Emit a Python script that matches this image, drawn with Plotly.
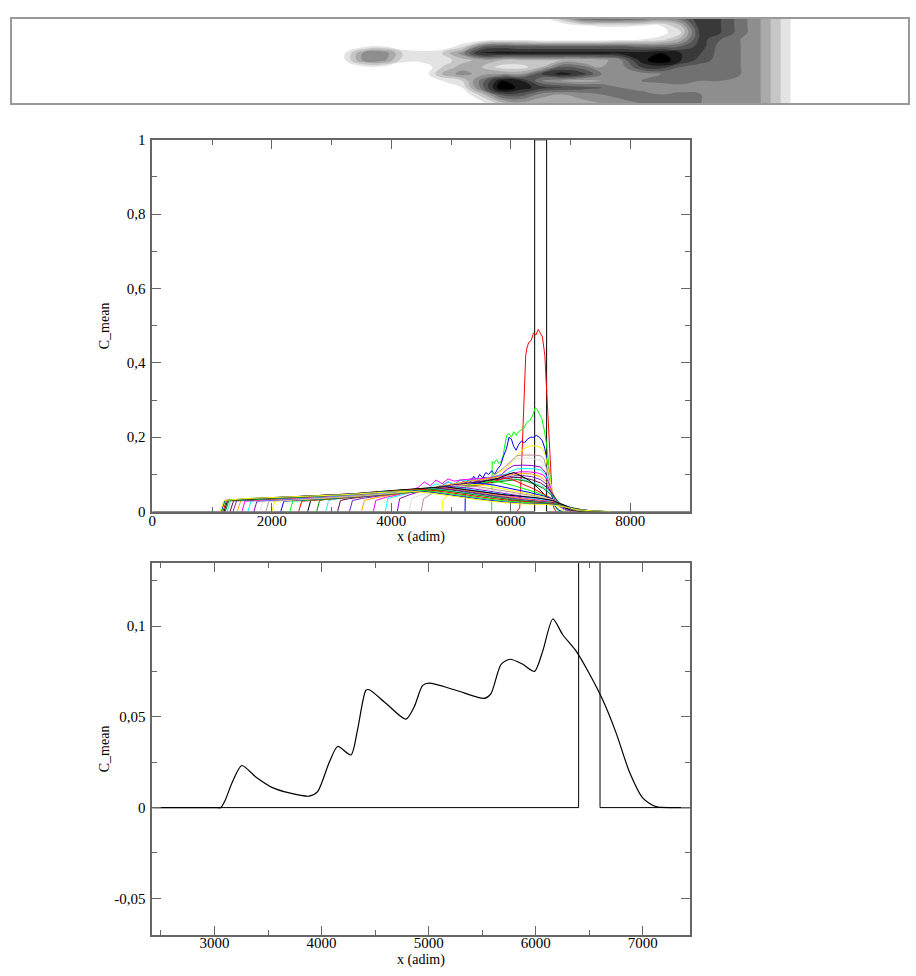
import plotly.graph_objects as go

# ---------------- colours (xmgrace default palette) ----------------
RED = "#ff0000"; GREEN = "#00ff00"; BLUE = "#0000ff"; YELLOW = "#ffff00"
BROWN = "#bc8f8f"; GREY = "#dcdcdc"; VIOLET = "#9400d3"; CYAN = "#00ffff"
MAGENTA = "#ff00ff"; ORANGE = "#ffa500"; INDIGO = "#7221bc"; MAROON = "#670748"
TURQUOISE = "#40e0d0"; GREEN4 = "#008b00"; BLACK = "#000000"

# ---------------- top panel: concentration field ----------------
field_x = [340, 360, 380, 400, 420, 440, 460, 480, 500, 520, 540, 560, 580,
           600, 620, 640, 660, 680, 700, 720, 740, 760, 780, 800, 820]
field_y = [11, 18, 25, 32, 39, 46, 53, 60, 67, 74, 81, 88, 97]
field_z = [
    [0,0,0,0,0,0,0,0,0,0,0,0.25,0.55,0.6,0.6,0.55,0.45,0.55,0.8,0.7,0.55,0.4,0.2,0,0],
    [0,0,0,0,0,0,0,0,0,0,0,0,0.08,0.12,0.12,0.1,0.1,0.3,0.8,0.7,0.55,0.4,0.2,0,0],
    [0,0,0,0,0,0,0,0,0,0,0,0,0,0,0,0,0.05,0.2,0.75,0.7,0.55,0.4,0.2,0,0],
    [0,0,0,0,0,0,0,0,0.05,0.05,0,0,0,0,0.05,0.1,0.15,0.35,0.75,0.6,0.5,0.4,0.2,0,0],
    [0,0.05,0.1,0,0,0,0.15,0.55,0.65,0.6,0.6,0.6,0.6,0.6,0.6,0.55,0.55,0.6,0.75,0.55,0.5,0.4,0.2,0,0],
    [0.05,0.4,0.5,0.2,0.15,0.2,0.45,0.85,0.85,0.85,0.85,0.85,0.85,0.85,0.85,0.85,0.9,0.8,0.7,0.55,0.5,0.4,0.2,0,0],
    [0.05,0.4,0.45,0.15,0.15,0.15,0.25,0.35,0.3,0.3,0.3,0.3,0.3,0.35,0.5,0.85,1.0,0.8,0.65,0.55,0.5,0.4,0.2,0,0],
    [0,0.05,0.05,0,0,0.2,0.35,0.3,0.15,0.15,0.3,0.6,0.55,0.4,0.45,0.7,0.75,0.6,0.55,0.55,0.5,0.4,0.2,0,0],
    [0,0,0,0,0,0.3,0.45,0.35,0.4,0.4,0.7,0.85,0.75,0.5,0.4,0.45,0.5,0.55,0.6,0.55,0.5,0.4,0.2,0,0],
    [0,0,0,0,0,0.1,0.2,0.55,0.9,0.8,0.5,0.4,0.35,0.4,0.45,0.5,0.55,0.6,0.5,0.5,0.5,0.4,0.2,0,0],
    [0,0,0,0,0,0,0.1,0.55,1.0,0.85,0.75,0.7,0.65,0.6,0.5,0.45,0.4,0.4,0.45,0.5,0.5,0.4,0.2,0,0],
    [0,0,0,0,0,0,0,0.25,0.65,0.65,0.45,0.4,0.45,0.5,0.55,0.55,0.5,0.55,0.5,0.5,0.5,0.4,0.2,0,0],
    [0,0,0,0,0,0,0,0.05,0.25,0.35,0.3,0.3,0.35,0.4,0.45,0.5,0.55,0.55,0.5,0.5,0.5,0.4,0.2,0,0],
]

# ---------------- injection window (boxcar) ----------------
window_x = [0, 6400, 6400, 6600, 6600, 9000]
window_y = [0, 0, 1, 1, 0, 0]

# ---------------- middle panel: C_mean profiles at successive times ----------------
s01_x = [6100,6150,6180,6210,6250,6270,6300,6340,6380,6420,6460,6500,6530,6570,6600,6630,6660,6690,6720,6760]
s01_y = [0,0.01,0.12,0.24,0.42,0.44,0.455,0.46,0.48,0.475,0.49,0.478,0.47,0.42,0.33,0.24,0.12,0.05,0.01,0]
s02_x = [5680,5690,5720,5760,5800,5840,5870,5900,5930,5970,6010,6050,6090,6130,6170,6220,6270,6320,6370,6410,6440,6480,6520,6560,6600,6640,6680,6720,6780,6850]
s02_y = [0,0.135,0.13,0.14,0.13,0.135,0.15,0.18,0.205,0.21,0.2,0.215,0.205,0.215,0.22,0.225,0.24,0.245,0.26,0.28,0.275,0.26,0.25,0.22,0.18,0.12,0.06,0.02,0.005,0]
s03_x = [5235,5240,5280,5330,5380,5430,5480,5530,5580,5630,5680,5730,5780,5830,5880,5930,5970,6010,6050,6090,6130,6180,6230,6280,6330,6380,6430,6480,6530,6570,6610,6650,6690,6740,6800,6880]
s03_y = [0,0.075,0.085,0.08,0.095,0.085,0.1,0.09,0.105,0.1,0.11,0.1,0.115,0.125,0.15,0.17,0.2,0.195,0.175,0.165,0.18,0.19,0.185,0.195,0.2,0.2,0.205,0.2,0.19,0.17,0.13,0.08,0.04,0.015,0.004,0]
s04_x = [4850,4860,4950,5050,5150,5250,5350,5450,5550,5650,5750,5850,5950,6050,6150,6250,6350,6450,6530,6580,6620,6660,6700,6750,6820,6900]
s04_y = [0,0.03,0.045,0.055,0.065,0.07,0.075,0.08,0.085,0.09,0.1,0.11,0.12,0.14,0.16,0.172,0.177,0.176,0.17,0.15,0.12,0.085,0.05,0.022,0.006,0]
s05_x = [4500,4540,4700,4900,5100,5300,5500,5700,5900,6000,6100,6200,6300,6400,6500,6560,6620,6670,6720,6800,6900,7000]
s05_y = [0,0.035,0.05,0.06,0.068,0.075,0.085,0.095,0.12,0.135,0.15,0.152,0.153,0.152,0.15,0.14,0.1,0.06,0.035,0.015,0.004,0]
s06_x = [4300,4340,4500,4700,4900,5100,5300,5500,5700,5850,5950,6050,6200,6350,6500,6580,6640,6700,6760,6850,6950,7050]
s06_y = [0,0.035,0.045,0.052,0.06,0.068,0.075,0.082,0.09,0.1,0.125,0.14,0.145,0.143,0.138,0.12,0.085,0.05,0.03,0.012,0.003,0]
s07_x = [4100,4140,4300,4500,4700,4850,4950,5050,5150,5250,5350,5450,5550,5650,5750,5850,5950,6050,6200,6350,6500,6580,6640,6700,6770,6860,6960,7080]
s07_y = [0,0.035,0.045,0.055,0.062,0.07,0.08,0.072,0.085,0.078,0.09,0.082,0.092,0.088,0.095,0.1,0.115,0.124,0.125,0.124,0.12,0.105,0.075,0.045,0.025,0.01,0.003,0]
s08_x = [3900,3940,4100,4300,4500,4650,4750,4850,4950,5050,5150,5300,5450,5600,5750,5900,6000,6100,6250,6400,6500,6580,6640,6700,6780,6880,7000,7120]
s08_y = [0,0.035,0.042,0.05,0.058,0.066,0.075,0.068,0.08,0.074,0.085,0.082,0.088,0.09,0.095,0.1,0.108,0.115,0.116,0.115,0.112,0.1,0.075,0.048,0.026,0.011,0.003,0]
s09_x = [3700,3740,3900,4100,4300,4450,4550,4650,4750,4850,4950,5050,5200,5400,5600,5800,6000,6150,6300,6450,6550,6630,6700,6780,6880,7000,7150]
s09_y = [0,0.03,0.038,0.045,0.055,0.065,0.08,0.07,0.085,0.075,0.088,0.082,0.086,0.088,0.09,0.095,0.102,0.107,0.107,0.104,0.098,0.08,0.05,0.028,0.012,0.003,0]
s10_x = [3500,3550,3700,3900,4100,4300,4500,4700,4900,5100,5300,5500,5700,5900,6050,6200,6350,6500,6600,6680,6760,6860,6980,7150]
s10_y = [0,0.03,0.036,0.042,0.048,0.054,0.06,0.066,0.072,0.077,0.082,0.086,0.09,0.096,0.1,0.103,0.101,0.094,0.08,0.055,0.032,0.014,0.004,0]
s11_x = [3300,3350,3500,3700,3900,4100,4300,4500,4700,4900,5100,5300,5500,5700,5900,6050,6200,6350,6500,6600,6680,6760,6860,6980,7150]
s11_y = [0,0.03,0.035,0.04,0.045,0.05,0.055,0.06,0.064,0.069,0.073,0.078,0.082,0.087,0.092,0.096,0.097,0.094,0.086,0.073,0.052,0.031,0.014,0.004,0]
s12_x = [3100,3150,3300,3500,3700,3900,4100,4300,4500,4700,4900,5100,5300,5500,5700,5900,6050,6200,6350,6500,6620,6700,6780,6880,7000,7180]
s12_y = [0,0.03,0.035,0.039,0.043,0.047,0.051,0.055,0.059,0.063,0.067,0.071,0.075,0.079,0.084,0.089,0.092,0.091,0.086,0.077,0.063,0.046,0.028,0.013,0.004,0]
s13_x = [2900,2950,3100,3300,3500,3700,3900,4100,4300,4500,4700,4900,5100,5300,5500,5700,5900,6050,6200,6350,6500,6620,6700,6790,6900,7030,7200]
s13_y = [0,0.03,0.034,0.038,0.041,0.045,0.048,0.052,0.055,0.058,0.062,0.065,0.069,0.073,0.077,0.081,0.086,0.088,0.086,0.08,0.07,0.058,0.043,0.026,0.012,0.004,0]
s14_x = [2750,2800,2950,3150,3350,3550,3750,3950,4150,4350,4550,4750,4950,5150,5350,5550,5750,5950,6100,6250,6400,6550,6650,6730,6820,6930,7060,7250]
s14_y = [0,0.03,0.034,0.037,0.04,0.043,0.046,0.049,0.052,0.055,0.058,0.061,0.064,0.068,0.072,0.076,0.08,0.084,0.086,0.082,0.074,0.062,0.05,0.038,0.023,0.011,0.003,0]
s15_x = [2600,2650,2800,3000,3200,3400,3600,3800,4000,4200,4400,4600,4800,5000,5200,5400,5600,5800,5950,6050,6150,6300,6450,6600,6700,6780,6880,7000,7150,7350]
s15_y = [0,0.03,0.033,0.036,0.039,0.042,0.045,0.048,0.051,0.054,0.057,0.06,0.063,0.066,0.07,0.075,0.082,0.09,0.1,0.105,0.098,0.085,0.065,0.04,0.03,0.022,0.012,0.005,0.001,0]
s16_x = [2450,2500,3000,4000,5000,5500,5800,5900,6000,6200,6400,6600,6700,6800,6920,7050,7250]
s16_y = [0,0.028,0.034,0.046,0.062,0.072,0.085,0.09,0.088,0.075,0.06,0.043,0.034,0.024,0.012,0.004,0]
s17_x = [2300,2350,3000,4000,5000,5400,5650,5800,6000,6200,6400,6600,6700,6800,6920,7060,7300]
s17_y = [0,0.028,0.035,0.047,0.062,0.072,0.082,0.08,0.072,0.063,0.053,0.041,0.033,0.024,0.013,0.005,0]
s18_x = [2150,2200,2800,3600,4400,5000,5450,5700,6000,6300,6600,6720,6820,6950,7100,7350]
s18_y = [0,0.028,0.034,0.042,0.054,0.066,0.077,0.072,0.063,0.052,0.04,0.032,0.023,0.012,0.004,0]
s19_x = [2000,2050,2700,3500,4300,4900,5300,5600,5900,6200,6500,6720,6830,6960,7120,7400]
s19_y = [0,0.028,0.034,0.042,0.053,0.065,0.074,0.07,0.061,0.051,0.041,0.031,0.022,0.012,0.004,0]
s20_x = [1900,1950,2600,3400,4200,4800,5150,5500,5800,6100,6400,6720,6840,6970,7150,7420]
s20_y = [0,0.028,0.034,0.042,0.053,0.064,0.071,0.066,0.058,0.05,0.042,0.03,0.021,0.011,0.004,0]
s21_x = [1800,1850,2500,3300,4100,4700,5050,5400,5700,6000,6300,6600,6730,6850,6980,7160,7450]
s21_y = [0,0.028,0.034,0.042,0.052,0.063,0.069,0.064,0.057,0.05,0.043,0.035,0.029,0.02,0.011,0.004,0]
s22_x = [1700,1750,2400,3200,4000,4600,4950,5300,5600,5900,6200,6500,6740,6860,6990,7180,7470]
s22_y = [0,0.028,0.034,0.042,0.052,0.062,0.068,0.063,0.056,0.049,0.042,0.035,0.028,0.02,0.011,0.004,0]
s23_x = [1600,1650,2300,3100,3900,4500,4900,5200,5500,5800,6100,6400,6740,6870,7000,7200,7480]
s23_y = [0,0.028,0.034,0.042,0.051,0.061,0.067,0.062,0.055,0.048,0.041,0.034,0.027,0.019,0.011,0.004,0]
s24_x = [1500,1550,2200,3000,3800,4400,4850,5150,5450,5750,6050,6350,6750,6880,7010,7220,7500]
s24_y = [0,0.028,0.034,0.042,0.051,0.06,0.066,0.061,0.054,0.047,0.04,0.033,0.026,0.018,0.01,0.004,0]
s25_x = [1420,1480,2100,2900,3700,4300,4800,5100,5400,5700,6000,6300,6750,6880,7020,7230,7500]
s25_y = [0,0.029,0.034,0.042,0.05,0.059,0.065,0.06,0.053,0.046,0.039,0.032,0.025,0.018,0.01,0.004,0]
s26_x = [1350,1410,2000,2800,3600,4200,4750,5050,5350,5650,5950,6250,6600,6750,6890,7030,7250,7520]
s26_y = [0,0.029,0.034,0.041,0.049,0.058,0.064,0.059,0.052,0.045,0.038,0.031,0.026,0.023,0.017,0.01,0.003,0]
s27_x = [1300,1360,1900,2700,3500,4100,4700,5000,5300,5600,5900,6200,6600,6760,6900,7040,7260,7540]
s27_y = [0,0.029,0.034,0.041,0.048,0.057,0.063,0.058,0.051,0.044,0.037,0.03,0.025,0.022,0.016,0.009,0.003,0]
s28_x = [1250,1310,1850,2650,3450,4050,4650,4950,5250,5550,5850,6150,6600,6760,6900,7050,7280,7560]
s28_y = [0,0.029,0.034,0.041,0.048,0.056,0.062,0.057,0.05,0.043,0.036,0.03,0.024,0.021,0.015,0.009,0.003,0]
s29_x = [1220,1280,1800,2600,3400,4000,4600,4900,5200,5500,5800,6100,6600,6770,6910,7060,7300,7580]
s29_y = [0,0.029,0.034,0.04,0.047,0.055,0.061,0.056,0.049,0.042,0.036,0.03,0.023,0.02,0.014,0.008,0.003,0]
s30_x = [1200,1260,1750,2550,3350,3950,4600,4900,5200,5500,5800,6100,6450,6700,6850,7000,7200,7500]
s30_y = [0,0.03,0.035,0.041,0.048,0.056,0.064,0.067,0.06,0.053,0.047,0.042,0.037,0.03,0.02,0.01,0.003,0]
s31_x = [1180,1240,1700,2500,3300,3900,4500,4800,5100,5400,5700,6000,6300,6600,6780,6920,7080,7320,7600]
s31_y = [0,0.03,0.035,0.041,0.047,0.054,0.06,0.055,0.048,0.041,0.035,0.03,0.026,0.022,0.019,0.013,0.007,0.002,0]
s32_x = [1160,1220,1650,2450,3250,3850,4450,4750,5050,5350,5650,5950,6250,6600,6790,6930,7090,7340,7620]
s32_y = [0,0.03,0.035,0.04,0.046,0.053,0.058,0.053,0.046,0.039,0.033,0.028,0.024,0.021,0.018,0.012,0.006,0.002,0]
s33_x = [1150,1210,1600,2400,3200,3800,4400,4700,5000,5300,5600,5900,6200,6600,6800,6940,7100,7360,7640]
s33_y = [0,0.03,0.035,0.04,0.046,0.052,0.056,0.051,0.044,0.037,0.031,0.026,0.022,0.02,0.017,0.011,0.006,0.002,0]
s34_x = [1140,1200,1550,2350,3150,3750,4350,4650,4950,5250,5550,5850,6150,6600,6800,6950,7110,7380,7660]
s34_y = [0,0.03,0.035,0.04,0.045,0.051,0.055,0.05,0.043,0.036,0.03,0.025,0.021,0.019,0.016,0.011,0.005,0.002,0]

set_colors = [RED, GREEN, BLUE, YELLOW, BROWN, GREY, VIOLET, CYAN, MAGENTA, ORANGE,
              INDIGO, MAROON, TURQUOISE, GREEN4, BLACK,
              RED, GREEN, BLUE, YELLOW, BROWN, GREY, VIOLET, CYAN, MAGENTA, ORANGE,
              INDIGO, MAROON, TURQUOISE, GREEN4, BLACK, RED, GREEN, BLUE, YELLOW]
profiles = [(s01_x, s01_y), (s02_x, s02_y), (s03_x, s03_y), (s04_x, s04_y), (s05_x, s05_y),
            (s06_x, s06_y), (s07_x, s07_y), (s08_x, s08_y), (s09_x, s09_y), (s10_x, s10_y),
            (s11_x, s11_y), (s12_x, s12_y), (s13_x, s13_y), (s14_x, s14_y), (s15_x, s15_y),
            (s16_x, s16_y), (s17_x, s17_y), (s18_x, s18_y), (s19_x, s19_y), (s20_x, s20_y),
            (s21_x, s21_y), (s22_x, s22_y), (s23_x, s23_y), (s24_x, s24_y), (s25_x, s25_y),
            (s26_x, s26_y), (s27_x, s27_y), (s28_x, s28_y), (s29_x, s29_y), (s30_x, s30_y),
            (s31_x, s31_y), (s32_x, s32_y), (s33_x, s33_y), (s34_x, s34_y)]

# ---------------- bottom panel: single profile ----------------
prof_x = [0, 3000, 3059, 3100, 3168, 3255, 3386, 3542, 3698, 3885, 3963, 4072, 4150, 4274, 4336,
          4414, 4446, 4601, 4788, 4866, 4944, 5006, 5255, 5520, 5582, 5676, 5760, 5879, 5988,
          6065, 6159, 6252, 6377, 6502, 6626, 6750, 6875, 7000, 7124, 7311, 9000]
prof_y = [0, 0, 0, 0.004, 0.0142, 0.0232, 0.0169, 0.011, 0.0081, 0.0063, 0.0088, 0.025, 0.0337,
          0.029, 0.043, 0.0647, 0.065, 0.0575, 0.0488, 0.0557, 0.0674, 0.0686, 0.0647, 0.0602,
          0.0629, 0.079, 0.0818, 0.079, 0.0751, 0.0863, 0.104, 0.0953, 0.0863, 0.0737, 0.0593,
          0.0412, 0.0196, 0.0052, 0.0005, 0, 0]

mid_xticks = [0, 2000, 4000, 6000, 8000]
mid_xtext = ["0", "2000", "4000", "6000", "8000"]
mid_yticks = [0, 0.2, 0.4, 0.6, 0.8, 1]
mid_ytext = ["0", "0,2", "0,4", "0,6", "0,8", "1"]
bot_xticks = [3000, 4000, 5000, 6000, 7000]
bot_xtext = ["3000", "4000", "5000", "6000", "7000"]
bot_yticks = [-0.05, 0, 0.05, 0.1]
bot_ytext = ["-0,05", "0", "0,05", "0,1"]

# ---------------- figure ----------------
W, H = 916, 976
FONT = "Liberation Serif"
AX = "#666666"

fig = go.Figure()

fig.add_trace(go.Contour(
    x=field_x, y=field_y, z=field_z, xaxis="x3", yaxis="y3",
    zmin=0, zmax=1, colorscale=[[0, "#ffffff"], [1, "#000000"]],
    contours=dict(start=0.1, end=0.9, size=0.1, coloring="fill", showlines=False),
    line=dict(width=0, smoothing=1.3), showscale=False, hoverinfo="skip"))

fig.add_trace(go.Scatter(x=window_x, y=window_y, mode="lines", xaxis="x", yaxis="y",
                         line=dict(color=BLACK, width=1), showlegend=False))
for (px, py), col in zip(profiles, set_colors):
    fig.add_trace(go.Scatter(x=px, y=py, mode="lines", xaxis="x", yaxis="y",
                             line=dict(color=col, width=1), showlegend=False))

fig.add_trace(go.Scatter(x=window_x, y=window_y, mode="lines", xaxis="x2", yaxis="y2",
                         line=dict(color=BLACK, width=1), showlegend=False))
fig.add_trace(go.Scatter(x=prof_x, y=prof_y, mode="lines", xaxis="x2", yaxis="y2",
                         line=dict(color=BLACK, width=1.2, shape="spline", smoothing=0.7),
                         showlegend=False))


def axis(domain, rng, tickvals, ticktext, minor_dtick, anchor, standoff):
    return dict(domain=domain, range=rng, anchor=anchor, tickmode="array",
                tickvals=tickvals, ticktext=ticktext, showline=True, linecolor=AX,
                linewidth=1.5, mirror="allticks", ticks="inside", ticklen=9,
                tickwidth=1.3, tickcolor=AX, showgrid=False, zeroline=False,
                ticklabelstandoff=standoff,
                tickfont=dict(family=FONT, size=15, color="black"),
                minor=dict(ticks="inside", ticklen=5, tickwidth=1.3, tickcolor=AX,
                           dtick=minor_dtick, tick0=0, showgrid=False))


def dom_x(a, b):
    return [a / W, b / W]


def dom_y(top, bottom):
    return [1 - bottom / H, 1 - top / H]


fig.update_layout(
    width=W, height=H, margin=dict(l=0, r=0, t=0, b=0),
    paper_bgcolor="white", plot_bgcolor="white", showlegend=False,
    xaxis=axis(dom_x(149, 689), [0, 9000], mid_xticks, mid_xtext, 1000, "y", -5),
    yaxis=axis(dom_y(134, 512), [0, 1], mid_yticks, mid_ytext, 0.1, "x", 2),
    xaxis2=axis(dom_x(149, 689), [2420, 7440], bot_xticks, bot_xtext, 500, "y2", -6),
    yaxis2=axis(dom_y(564, 942), [-0.07, 0.135], bot_yticks, bot_ytext, 0.025, "x2", 2),
    xaxis3=dict(domain=dom_x(8, 908), range=[8, 908], anchor="y3", showline=True,
                linecolor="#999999", linewidth=1.5, mirror=True, showticklabels=False,
                ticks="", showgrid=False, zeroline=False),
    yaxis3=dict(domain=dom_y(11, 97), range=[97, 11], anchor="x3", showline=True,
                linecolor="#999999", linewidth=1.5, mirror=True, showticklabels=False,
                ticks="", showgrid=False, zeroline=False),
)

ann = dict(showarrow=False, xref="paper", yref="paper", xanchor="center", yanchor="middle",
           font=dict(family=FONT, size=14, color="black"))
fig.add_annotation(text="C_mean", x=101 / W, y=1 - 323 / H, textangle=-90, **ann)
fig.add_annotation(text="x (adim)", x=419 / W, y=1 - 538 / H, **ann)
fig.add_annotation(text="C_mean", x=101 / W, y=1 - 753 / H, textangle=-90, **ann)
fig.add_annotation(text="x (adim)", x=419 / W, y=1 - 968 / H, **ann)

fig.write_html("out.html", config={"displayModeBar": False},
               post_script="document.body.style.margin='0';document.body.style.overflow='hidden';")
